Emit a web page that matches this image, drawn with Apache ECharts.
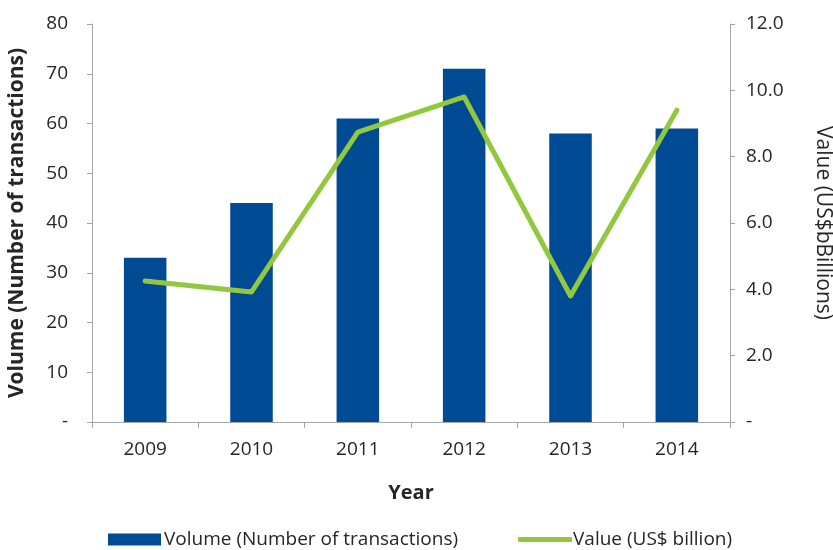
<!DOCTYPE html>
<html>
<head>
<meta charset="utf-8">
<script src="https://cdn.jsdelivr.net/npm/echarts@6/dist/echarts.min.js"></script>
<style>
  html, body { margin: 0; padding: 0; background: #fff; }
  #chart { width: 833px; height: 550px; }
</style>
</head>
<body>
<div id="chart"></div>
<script>
// data
const years = ['2009', '2010', '2011', '2012', '2013', '2014'];
const volume = [33, 44, 61, 71, 58, 59];          // number of transactions
const value = [4.25, 3.92, 8.74, 9.8, 3.8, 9.4];  // US$ billion

const FONT = '"Open Sans", "Noto Sans", sans-serif';
const axisGrey = '#a6a6a6';
const textCol = '#262626';

const chart = echarts.init(document.getElementById('chart'));
chart.setOption({
    animation: false,
    textStyle: { fontFamily: FONT },
    grid: { left: 92, right: 103, top: 24, bottom: 128, containLabel: false, outerBoundsMode: 'none' },
    legend: [
        {
            data: [{ name: 'Volume (Number of transactions)', icon: 'rect' }],
            left: 108, top: 530, padding: 0,
            itemWidth: 53, itemHeight: 12, itemGap: 3,
            textStyle: { fontSize: 19, color: textCol, fontFamily: FONT, padding: [0, 0, 0, -2] }
        },
        {
            data: [{ name: 'Value (US$ billion)', icon: 'roundRect' }],
            left: 518, top: 530, padding: 0,
            itemWidth: 54, itemHeight: 5,
            textStyle: { fontSize: 19, color: textCol, fontFamily: FONT, padding: [0, 0, 0, -4] }
        }
    ],
    xAxis: {
        type: 'category',
        data: years,
        name: 'Year',
        nameLocation: 'middle',
        nameGap: 61,
        nameTextStyle: { fontSize: 20, fontWeight: 'bold', color: textCol, fontFamily: FONT },
        axisLine: { lineStyle: { color: axisGrey, width: 1 } },
        axisTick: { show: true, length: 6, lineStyle: { color: axisGrey } },
        axisLabel: { fontSize: 19, color: textCol, margin: 18, fontFamily: FONT }
    },
    yAxis: [
        {
            type: 'value',
            min: 0, max: 80, interval: 10,
            name: 'Volume (Number of transactions)',
            nameLocation: 'middle',
            nameGap: 64,
            nameTextStyle: { fontSize: 21, fontWeight: 'bold', color: textCol, fontFamily: FONT },
            axisLine: { show: true, lineStyle: { color: axisGrey } },
            axisTick: { show: true, length: 5, lineStyle: { color: axisGrey } },
            splitLine: { show: false },
            axisLabel: {
                fontSize: 19, color: textCol, margin: 24, fontFamily: FONT,
                formatter: v => v === 0 ? '-' : String(v)
            }
        },
        {
            type: 'value',
            min: 0, max: 12, interval: 2,
            name: 'Value (US$bBillions)',
            nameLocation: 'middle',
            nameGap: 82,
            nameRotate: -90,
            nameTextStyle: { fontSize: 21, color: textCol, fontFamily: FONT },
            axisLine: { show: true, lineStyle: { color: axisGrey } },
            axisTick: { show: true, length: 5, lineStyle: { color: axisGrey } },
            splitLine: { show: false },
            axisLabel: {
                fontSize: 19, color: textCol, margin: 16, fontFamily: FONT,
                formatter: v => v === 0 ? '-' : v.toFixed(1)
            }
        }
    ],
    series: [
        {
            name: 'Volume (Number of transactions)',
            type: 'bar',
            data: volume,
            barWidth: '40%',
            itemStyle: { color: '#004b93' }
        },
        {
            name: 'Value (US$ billion)',
            type: 'line',
            yAxisIndex: 1,
            data: value,
            showSymbol: false,
            symbol: 'none',
            lineStyle: { color: '#92c83e', width: 5, cap: 'round', join: 'round' },
            itemStyle: { color: '#92c83e' }
        }
    ]
});
</script>
</body>
</html>
